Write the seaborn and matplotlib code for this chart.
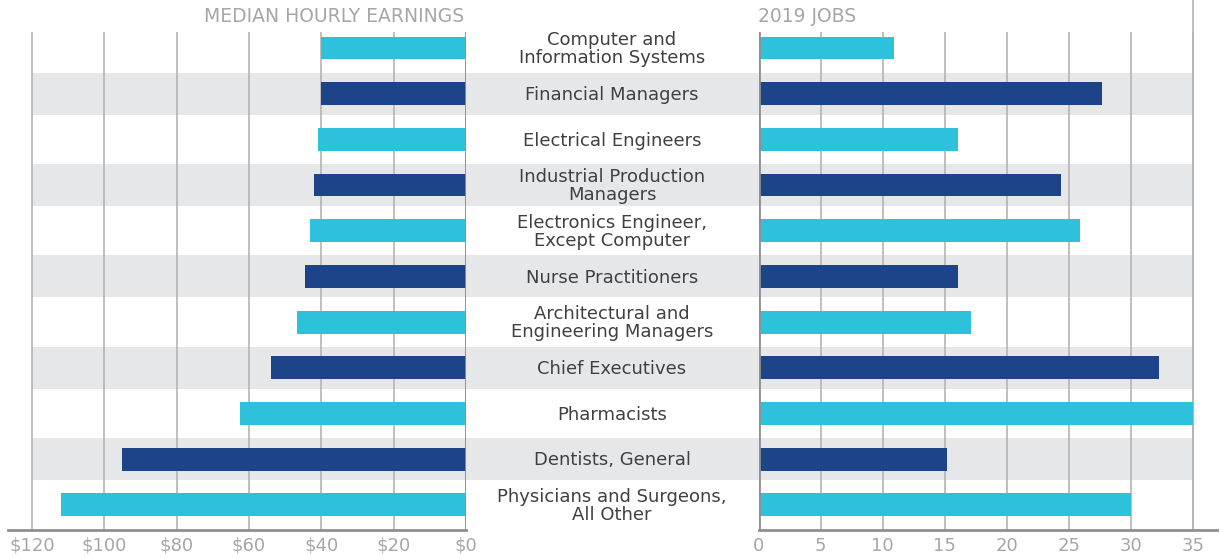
import numpy as np
import matplotlib
matplotlib.use("Agg")
import matplotlib.pyplot as plt
import matplotlib.transforms as mtransforms
import seaborn as sns
import pandas as pd

# occupations, top to bottom
occupations = [
    "Computer and\nInformation Systems",
    "Financial Managers",
    "Electrical Engineers",
    "Industrial Production\nManagers",
    "Electronics Engineer,\nExcept Computer",
    "Nurse Practitioners",
    "Architectural and\nEngineering Managers",
    "Chief Executives",
    "Pharmacists",
    "Dentists, General",
    "Physicians and Surgeons,\nAll Other",
]
hourly_earnings = [40, 40, 41, 42, 43, 44.5, 46.7, 54, 62.5, 95, 112]
jobs_2019 = [10.9, 27.7, 16.1, 24.4, 25.9, 16.1, 17.1, 32.3, 35, 15.2, 30.0]
shade = ["light", "dark"] * 5 + ["light"]

earn_ticks = [0, 20, 40, 60, 80, 100, 120]
job_ticks = [0, 5, 10, 15, 20, 25, 30, 35]

LIGHT = "#2EC1DC"
DARK = "#1D4489"
BAND = "#E6E7E9"
GRID = "#B4B4B4"
SPINE = "#8E8E93"
TICK_TXT = "#A6A6A6"
LABEL_TXT = "#404040"

df = pd.DataFrame({"occupation": occupations, "earnings": hourly_earnings,
                   "jobs": jobs_2019, "shade": shade})
palette = {"light": LIGHT, "dark": DARK}

sns.set_style("white")
plt.rcParams["font.family"] = ["DejaVu Sans"]

W, H = 1220, 558
fig = plt.figure(figsize=(W / 100, H / 100), dpi=100)


def rect(x0, x1, ytop, ybot):
    return [x0 / W, 1 - ybot / H, (x1 - x0) / W, (ybot - ytop) / H]


n = len(occupations)
ylim = (n - 1 + 0.55, -0.35)

# background bands + center labels
bg = fig.add_axes(rect(32, 1193, 32, 530), zorder=0)
bg.set_xlim(0, 1)
bg.set_ylim(*ylim)
bg.axis("off")
for i in range(n):
    if i % 2 == 1:
        bg.axhspan(i - 0.46, i + 0.46, color=BAND, lw=0)
trans = mtransforms.blended_transform_factory(bg.transAxes, bg.transData)
for i, name in enumerate(occupations):
    bg.text(0.4996, i + 0.025, name, transform=trans, ha="center", va="center",
            fontsize=13, color=LABEL_TXT, linespacing=0.98)

# left panel: hourly earnings
ax_l = fig.add_axes(rect(8, 466, 32, 530), zorder=2)
ax_l.patch.set_alpha(0)
sns.barplot(data=df, y="occupation", x="earnings", hue="shade", palette=palette,
            dodge=False, width=0.5, saturation=1, legend=False, ax=ax_l,
            linewidth=0, zorder=3)
ax_l.set_xlim(126.6, 0)
ax_l.set_xticks(earn_ticks)
ax_l.set_xticklabels([f"${v}" for v in earn_ticks])
ax_l.axvline(0, color=SPINE, lw=2, zorder=4)

# right panel: 2019 jobs
ax_r = fig.add_axes(rect(758.7, 1217, 32, 530), zorder=2)
ax_r.patch.set_alpha(0)
sns.barplot(data=df, y="occupation", x="jobs", hue="shade", palette=palette,
            dodge=False, width=0.5, saturation=1, legend=False, ax=ax_r,
            linewidth=0, zorder=3)
ax_r.set_xlim(0, 36.96)
ax_r.set_xticks(job_ticks)
ax_r.axvline(0, color=SPINE, lw=2, zorder=4)
ax_r.axvline(35, ymin=0, ymax=1 + 32 / 498, color=GRID, lw=1.2, zorder=1, clip_on=False)

for ax in (ax_l, ax_r):
    ax.set_ylim(*ylim)
    ax.set_yticks([])
    ax.set_xlabel("")
    ax.set_ylabel("")
    for s in ("top", "left", "right"):
        ax.spines[s].set_visible(False)
    ax.spines["bottom"].set_color(SPINE)
    ax.spines["bottom"].set_linewidth(2)
    ax.grid(axis="x", color=GRID, lw=1.2, zorder=1)
    ax.set_axisbelow(True)
    ax.tick_params(axis="x", length=0, pad=5, labelsize=13, labelcolor=TICK_TXT)

fig.text(464 / W, 1 - 16 / H, "MEDIAN HOURLY EARNINGS", ha="right", va="center",
         fontsize=13.5, color=TICK_TXT)
fig.text(758 / W, 1 - 16 / H, "2019 JOBS", ha="left", va="center",
         fontsize=13.5, color=TICK_TXT)

fig.savefig("out.png", dpi=100)
